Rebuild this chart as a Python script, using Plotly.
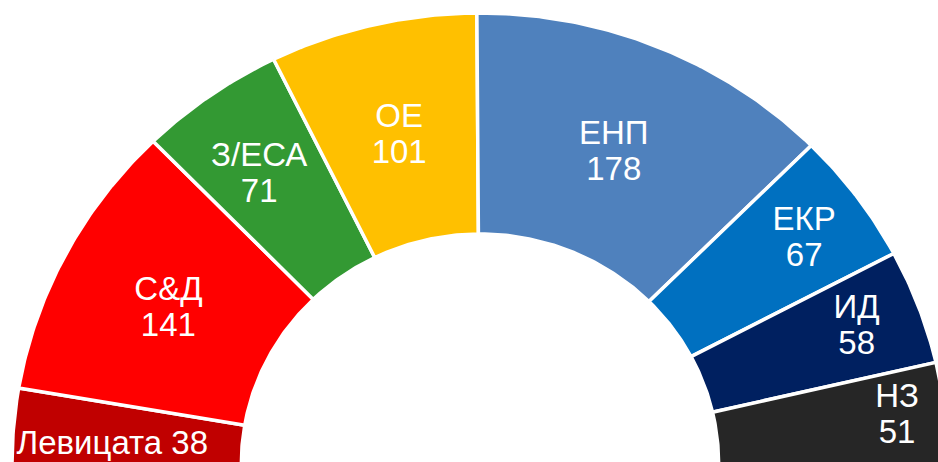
import plotly.graph_objects as go
import numpy as np

# ---- data ----
parties = ["Левицата", "С&Д", "З/ЕСА", "ОЕ", "ЕНП", "ЕКР", "ИД", "НЗ"]
seats = [38, 141, 71, 101, 178, 67, 58, 51]

# ---- style ----
colors = ["#C00000", "#FF0000", "#339933", "#FFC000", "#4F81BD", "#0070C0", "#002060", "#262626"]
label_inline = [True, False, False, False, False, False, False, False]
label_r = [0.787, 0.752, 0.80, 0.752, 0.752, 0.856, 0.862, 0.898]   # radial position (outer radius = 1)
label_dtheta = [1.45, 0.0, 0.9, 0.0, 0.0, -0.4, 0.56, 0.58]          # angular nudge, degrees
hole = 0.51
line_gap = 0.040     # half the vertical distance between the two label lines (y units)
label_dy = -0.0067   # small vertical correction of text baseline placement

total = sum(seats)
cum = np.concatenate([[0], np.cumsum(seats)])
theta_start = 180.0 - cum[:-1] / total * 180.0   # left edge of each wedge (degrees)
theta_end = 180.0 - cum[1:] / total * 180.0
theta_mid = (theta_start + theta_end) / 2.0

fig = go.Figure()

# wedges of the hemicycle (unit outer radius, drawn through the x/y axes)
for p, s, c, a0, a1 in zip(parties, seats, colors, theta_start, theta_end):
    n = max(int(abs(a0 - a1) * 2), 12)
    t = np.radians(np.linspace(a0, a1, n))
    xs = np.concatenate([np.cos(t), hole * np.cos(t[::-1]), [np.cos(t[0])]])
    ys = np.concatenate([np.sin(t), hole * np.sin(t[::-1]), [np.sin(t[0])]])
    fig.add_trace(go.Scatter(
        x=xs, y=ys, mode="lines", fill="toself", fillcolor=c,
        line=dict(color="white", width=3.5),
        name=f"{p} {s}", hoverinfo="skip", showlegend=False,
    ))

# labels
lx, ly, lt = [], [], []
for p, s, inl, r, dt, tm in zip(parties, seats, label_inline, label_r, label_dtheta, theta_mid):
    a = np.radians(tm + dt)
    x0, y0 = r * np.cos(a), r * np.sin(a) + label_dy
    if inl:
        lx.append(x0); ly.append(y0); lt.append(f"{p} {s}")
    else:
        lx += [x0, x0]; ly += [y0 + line_gap, y0 - line_gap]; lt += [p, str(s)]

fig.add_trace(go.Scatter(
    x=lx, y=ly, mode="text", text=lt, textposition="middle center",
    textfont=dict(family="Liberation Sans, Arial, sans-serif", size=33, color="white"),
    hoverinfo="skip", showlegend=False, cliponaxis=False,
))

fig.update_layout(
    width=938, height=462,
    margin=dict(l=0, r=0, t=0, b=0, pad=0),
    paper_bgcolor="white",
    plot_bgcolor="white",
    xaxis=dict(range=[-480 / 468, 458 / 468], visible=False, showgrid=False, zeroline=False, fixedrange=True),
    yaxis=dict(range=[2 / 451, 464 / 451], visible=False, showgrid=False, zeroline=False, fixedrange=True),
)

fig.write_html(
    "out.html",
    config={"displayModeBar": False, "staticPlot": True},
    post_script="document.documentElement.style.overflow='hidden';document.body.style.overflow='hidden';document.body.style.margin='0';",
)
